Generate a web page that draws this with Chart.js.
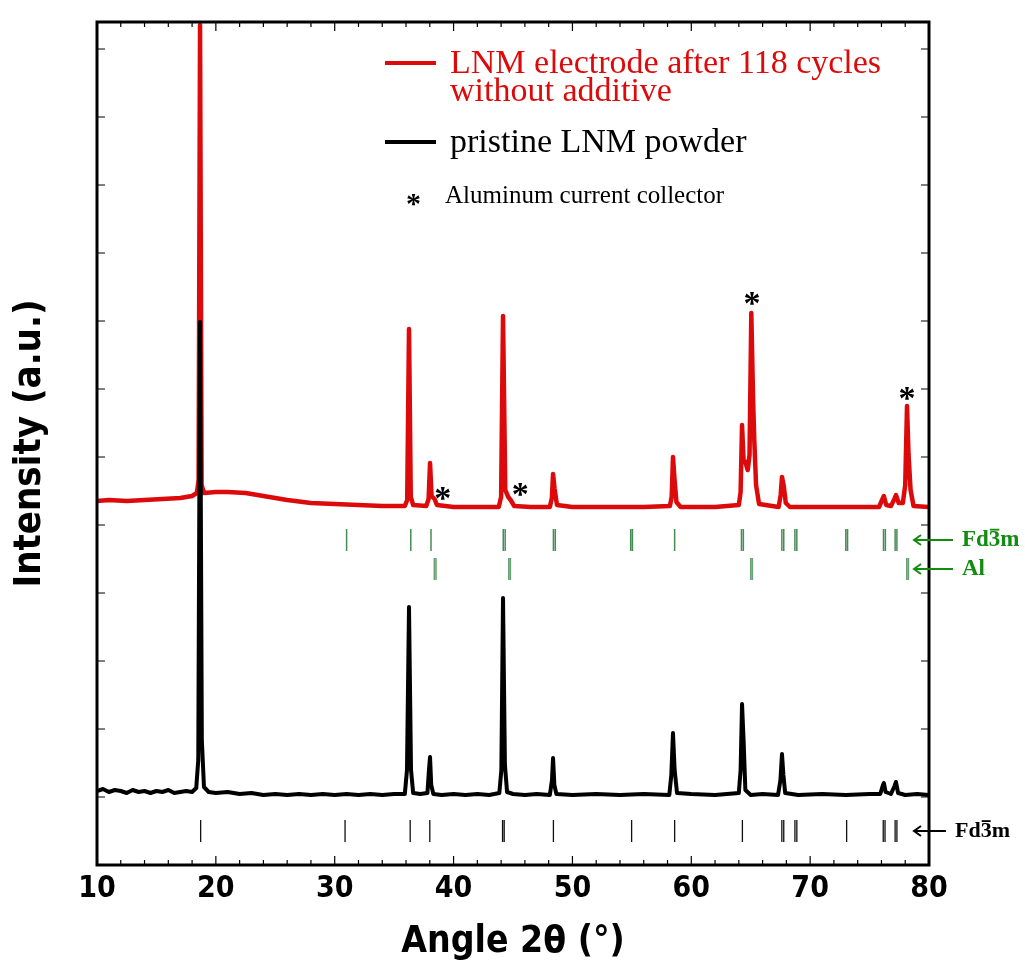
<!DOCTYPE html>
<html>
<head>
<meta charset="utf-8">
<script src="https://cdn.jsdelivr.net/npm/chart.js@4.4.0/dist/chart.umd.min.js"></script>
<style>
  html, body { margin: 0; padding: 0; background: #fff; }
  canvas { display: block; }
</style>
</head>
<body>
<canvas id="chart-xrd" width="1025" height="967"></canvas>
<script>
'use strict';

// cycled electrode (no additive), 2-theta in degrees / intensity in a.u.
var cycledAngle = [10.0, 11.0, 12.5, 14.0, 15.5, 17.0, 18.0, 18.4, 18.55, 18.67, 18.8, 19.0, 20.0, 21.0, 22.5,
    24.0, 26.0, 28.0, 30.0, 32.0, 34.0, 35.9, 36.1, 36.25, 36.4, 36.6, 37.7, 37.9, 38.02, 38.15, 38.4, 38.6,
    40.0, 42.0, 43.8, 44.0, 44.16, 44.35, 44.6, 44.8, 45.1, 46.5, 48.1, 48.27, 48.37, 48.5, 48.7,
    50.0, 53.0, 56.0, 58.2, 58.35, 58.46, 58.58, 58.75, 59.1, 62.0, 64.0, 64.15, 64.27, 64.4, 64.55, 64.75,
    64.9, 65.05, 65.2, 65.3, 65.45, 65.7, 67.35, 67.52, 67.63, 67.78, 67.95, 68.3, 72.0, 75.8, 76.05, 76.2,
    76.4, 76.8, 77.05, 77.22, 77.45, 77.8, 78.0, 78.15, 78.28, 78.45, 78.7, 80.0];
var cycledIntensity = [364, 365, 364, 365, 366, 367, 369, 372, 385, 840, 380, 372, 373, 373, 372,
    369, 365, 362, 361, 360, 359, 359, 365, 536, 368, 360, 359, 366, 402, 369, 366, 360,
    358, 358, 358, 368, 549, 375, 368, 365, 359, 358, 358, 367, 391, 376, 360,
    358, 358, 358, 359, 368, 408, 387, 363, 358, 358, 360, 373, 440, 405, 403, 395,
    410, 552, 465, 425, 380, 361, 358, 370, 388, 379, 362, 358, 358, 358, 365, 369,
    360, 359, 365, 370, 362, 362, 380, 459, 410, 375, 359, 358];

// pristine powder
var pristineAngle = [10.0, 10.5, 11.0, 11.5, 12.0, 12.5, 13.0, 13.5, 14.0, 14.5, 15.0, 15.5, 16.0, 16.5, 17.0,
    17.5, 18.0, 18.35, 18.52, 18.67, 18.82, 19.0, 19.4, 20.0, 21.0, 22.0, 23.0, 24.0, 25.0, 26.0, 27.0, 28.0,
    29.0, 30.0, 31.0, 32.0, 33.0, 34.0, 35.0, 35.9, 36.08, 36.25, 36.42, 36.6, 37.2, 37.8, 37.93, 38.02, 38.12,
    38.3, 39.0, 40.0, 41.0, 42.0, 43.0, 43.85, 44.02, 44.16, 44.32, 44.5, 45.0, 46.0, 47.0, 48.1, 48.28, 48.37,
    48.48, 48.65, 50.0, 52.0, 54.0, 56.0, 58.15, 58.32, 58.46, 58.6, 58.8, 60.0, 62.0, 64.0, 64.15, 64.27,
    64.4, 64.55, 65.0, 66.0, 67.3, 67.5, 67.63, 67.75, 67.9, 69.0, 71.0, 73.0, 75.0, 75.9, 76.1, 76.2, 76.35,
    76.8, 77.1, 77.22, 77.4, 78.0, 79.0, 80.0];
var pristineIntensity = [74, 76, 73, 75, 74, 72, 75, 73, 74, 72, 74, 73, 75, 72, 73,
    74, 73, 77, 105, 543, 125, 78, 73, 72, 73, 71, 72, 70, 71, 70, 71, 70,
    71, 70, 71, 70, 71, 70, 71, 71, 95, 258, 95, 72, 71, 72, 95, 108, 80,
    71, 70, 71, 70, 71, 70, 72, 95, 267, 100, 73, 71, 70, 71, 70, 85, 107,
    80, 71, 70, 71, 70, 71, 70, 90, 132, 95, 72, 71, 70, 72, 95, 161,
    125, 75, 70, 71, 70, 85, 111, 90, 72, 70, 71, 70, 71, 71, 79, 82, 73,
    71, 79, 83, 72, 70, 71, 70];

// reflection positions (2-theta), doublets listed as two lines
var spinelCycled = [31.0, 36.4, 38.1, 44.18, 44.34, 48.4, 48.56, 54.9, 55.05, 58.6, 64.22, 64.38,
    67.62, 67.78, 68.72, 68.88, 73.0, 73.15, 76.17, 76.33, 77.15, 77.3];
var aluminum = [38.38, 38.52, 44.64, 44.78, 65.0, 65.14, 78.13, 78.27];
var spinelRef = [18.72, 30.87, 36.35, 38.0, 44.12, 44.26, 48.4, 54.98, 58.6, 64.3,
    67.62, 67.78, 68.72, 68.88, 73.07, 76.15, 76.3, 77.15, 77.3];

// aluminium peak markers: [2-theta, intensity]
var starAt = [[39.1, 373], [45.6, 377], [65.1, 568], [78.15, 473]];

var SANS = "'Liberation Sans Narrow', 'Arial Narrow', 'DejaVu Sans Condensed', sans-serif";
var SERIF = "'Liberation Serif', 'Times New Roman', serif";
var RED = '#dc0a0a';
var GREEN = '#118c11';

function pairs(xs, ys) {
    var out = [];
    for (var i = 0; i < xs.length; i++) {
        out.push({x: xs[i], y: ys[i]});
    }
    return out;
}

// vertical bars between lo and hi, broken by nulls
function sticks(xs, lo, hi) {
    var out = [];
    for (var i = 0; i < xs.length; i++) {
        out.push({x: xs[i], y: lo});
        out.push({x: xs[i], y: hi});
        out.push({x: xs[i], y: null});
    }
    return out;
}

var framePlugin = {
    id: 'frame',
    afterDatasetsDraw: function(chart) {
        var ctx = chart.ctx;
        var area = chart.chartArea;
        var xs = chart.scales.x;
        var ys = chart.scales.y;

        ctx.save();
        ctx.strokeStyle = '#000';

        // inward ticks on all four sides
        ctx.lineWidth = 1.2;
        ctx.beginPath();
        xs.ticks.forEach(function(t) {
            var px = xs.getPixelForValue(t.value);
            var len = Math.round(t.value) % 10 === 0 ? 9 : 5;
            ctx.moveTo(px, area.bottom);
            ctx.lineTo(px, area.bottom - len);
            ctx.moveTo(px, area.top);
            ctx.lineTo(px, area.top + len);
        });
        ys.ticks.forEach(function(t) {
            var py = ys.getPixelForValue(t.value);
            ctx.moveTo(area.left, py);
            ctx.lineTo(area.left + 8, py);
            ctx.moveTo(area.right, py);
            ctx.lineTo(area.right - 8, py);
        });
        ctx.stroke();

        ctx.lineWidth = 3;
        ctx.strokeRect(area.left, area.top, area.right - area.left, area.bottom - area.top);

        // asterisks over the aluminium reflections
        ctx.fillStyle = '#000';
        ctx.font = 'bold 34px ' + SERIF;
        ctx.textAlign = 'center';
        ctx.textBaseline = 'middle';
        starAt.forEach(function(s) {
            ctx.fillText('*', xs.getPixelForValue(s[0]), ys.getPixelForValue(s[1]) + 8);
        });

        // legend block
        ctx.textAlign = 'left';
        ctx.textBaseline = 'alphabetic';
        ctx.lineWidth = 4;
        ctx.strokeStyle = RED;
        ctx.beginPath();
        ctx.moveTo(385, 63);
        ctx.lineTo(436, 63);
        ctx.stroke();
        ctx.strokeStyle = '#000';
        ctx.beginPath();
        ctx.moveTo(385, 142);
        ctx.lineTo(436, 142);
        ctx.stroke();

        ctx.font = '34px ' + SERIF;
        ctx.fillStyle = RED;
        ctx.fillText('LNM electrode after 118 cycles', 450, 73);
        ctx.fillText('without additive', 450, 101);
        ctx.fillStyle = '#000';
        ctx.fillText('pristine LNM powder', 450, 152);
        ctx.font = 'bold 30px ' + SERIF;
        ctx.fillText('*', 406, 213);
        ctx.font = '25px ' + SERIF;
        ctx.fillText('Aluminum current collector', 445, 203);

        // phase labels with arrows on the right
        function phaseLabel(y, color, x0, x1, size, parts) {
            ctx.strokeStyle = color;
            ctx.fillStyle = color;
            ctx.lineWidth = 2;
            ctx.beginPath();
            ctx.moveTo(x1, y);
            ctx.lineTo(x0, y);
            ctx.moveTo(x0 + 7, y - 5);
            ctx.lineTo(x0, y);
            ctx.lineTo(x0 + 7, y + 5);
            ctx.stroke();
            ctx.font = 'bold ' + size + 'px ' + SERIF;
            ctx.textBaseline = 'middle';
            var x = x1 + 9;
            parts.forEach(function(p) {
                ctx.fillText(p.text, x, y);
                var w = ctx.measureText(p.text).width;
                if (p.bar) {
                    ctx.lineWidth = 1.8;
                    ctx.beginPath();
                    ctx.moveTo(x + 1, y - size * 0.45);
                    ctx.lineTo(x + w - 1, y - size * 0.45);
                    ctx.stroke();
                }
                x += w;
            });
        }
        var fd = [{text: 'Fd'}, {text: '3', bar: true}, {text: 'm'}];
        phaseLabel(540, GREEN, 914, 953, 23, fd);
        phaseLabel(569, GREEN, 914, 953, 23, [{text: 'Al'}]);
        phaseLabel(831, '#000', 914, 946, 22, fd);

        ctx.restore();
    }
};

var ctx_xrd = document.getElementById('chart-xrd').getContext('2d');

var chart_xrd = new Chart(ctx_xrd, {
    type: 'scatter',
    data: {
        datasets: [{
                label: 'pristine LNM powder',
                data: pairs(pristineAngle, pristineIntensity),
                showLine: true,
                borderColor: '#000',
                borderWidth: 4,
                borderJoinStyle: 'round',
                pointRadius: 0,
                order: 0
            },
            {
                label: 'LNM electrode after 118 cycles without additive',
                data: pairs(cycledAngle, cycledIntensity),
                showLine: true,
                borderColor: RED,
                borderWidth: 4.5,
                borderJoinStyle: 'round',
                pointRadius: 0,
                order: 1
            },
            {
                label: 'Fd-3m (cycled)',
                data: sticks(spinelCycled, 314, 336),
                showLine: true,
                spanGaps: false,
                borderColor: 'rgba(25,110,45,0.8)',
                borderWidth: 1.5,
                pointRadius: 0,
                order: 2
            },
            {
                label: 'Al',
                data: sticks(aluminum, 285, 307),
                showLine: true,
                spanGaps: false,
                borderColor: 'rgba(25,110,45,0.65)',
                borderWidth: 1.5,
                pointRadius: 0,
                order: 2
            },
            {
                label: 'Fd-3m (reference)',
                data: sticks(spinelRef, 23, 45),
                showLine: true,
                spanGaps: false,
                borderColor: '#111',
                borderWidth: 1.3,
                pointRadius: 0,
                order: 2
            }
        ]
    },
    options: {
        responsive: false,
        animation: false,
        layout: {
            padding: {top: 22, right: 96, bottom: 0, left: 0}
        },
        plugins: {
            legend: {display: false},
            tooltip: {enabled: false}
        },
        scales: {
            x: {
                type: 'linear',
                min: 10,
                max: 80,
                grid: {display: false, drawTicks: false},
                border: {display: false},
                ticks: {
                    stepSize: 2,
                    autoSkip: false,
                    maxRotation: 0,
                    padding: 6,
                    color: '#000',
                    font: {family: SANS, size: 30, weight: 'bold'},
                    callback: function(v) {
                        return Math.round(v) % 10 === 0 ? v : '';
                    }
                },
                title: {
                    display: true,
                    text: 'Angle 2θ (°)',
                    color: '#000',
                    font: {family: SANS, size: 37, weight: 'bold'},
                    padding: {top: 0, bottom: 2}
                },
                afterFit: function(scale) {
                    scale.height = 102;
                }
            },
            y: {
                min: 0,
                max: 843,
                grid: {display: false, drawTicks: false},
                border: {display: false},
                ticks: {display: false, stepSize: 68},
                title: {
                    display: true,
                    text: 'Intensity (a.u.)',
                    color: '#000',
                    font: {family: SANS, size: 38, weight: 'bold'},
                    padding: {top: 7, bottom: 0}
                },
                afterFit: function(scale) {
                    scale.width = 97;
                }
            }
        }
    },
    plugins: [framePlugin]
});
</script>
</body>
</html>
